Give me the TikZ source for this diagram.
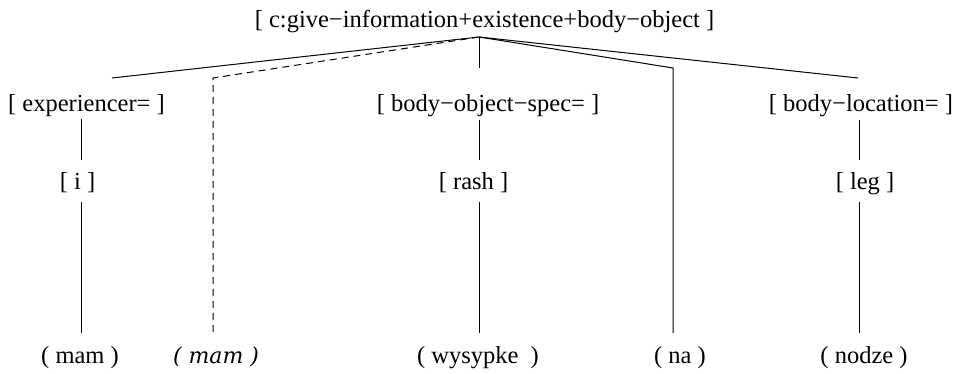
\documentclass[tikz,border=0pt]{standalone}
\usepackage{fontspec}
\setmainfont{Liberation Serif}
\newfontfamily\mamfont{DejaVu Serif}
\begin{document}
\begin{tikzpicture}[x=1pt,y=-1pt,
  lbl/.style={inner sep=0pt,anchor=base,font=\fontsize{24.5}{28}\selectfont},
  itlbl/.style={inner sep=0pt,anchor=base,font=\mamfont\itshape\fontsize{22}{26}\selectfont},
  edge/.style={line width=1pt},
  dedge/.style={line width=1pt,dash pattern=on 7pt off 5pt}]
\useasboundingbox (0,0) rectangle (956,374);
% labels
\node[lbl] (root) at (484.5,28) {[ c:give−information+existence+body−object ]};
\node[lbl] (exp) at (86.5,112) {[ experiencer= ]};
\node[lbl] (bos) at (488,112) {[ body−object−spec= ]};
\node[lbl] (bl) at (861,112) {[ body−location= ]};
\node[lbl] (i) at (77.5,190) {[ i ]};
\node[lbl] (rash) at (473.5,190) {[ rash ]};
\node[lbl] (leg) at (865,190) {[ leg ]};
\node[lbl] (mam) at (80,363) {( mam )};
\node[itlbl] (mamit) at (216,363) {( mam )};
\node[lbl] (wys) at (478,363) {( wysypke \ )};
\node[lbl] (na) at (680,363) {( na )};
\node[lbl] (nodze) at (864,363) {( nodze )};
% connector points
\coordinate (apex) at (479,37);
\coordinate (expT) at (112,78);
\coordinate (dashT) at (213,78);
\coordinate (dashB) at (213,333);
\coordinate (bosT) at (479,68);
\coordinate (naT) at (673,68);
\coordinate (naB) at (673,333);
\coordinate (blT) at (858,78);
\coordinate (expA) at (81,119);
\coordinate (expB) at (81,160);
\coordinate (iA) at (81,202);
\coordinate (iB) at (81,333);
\coordinate (bosA) at (479,120);
\coordinate (bosB) at (479,160);
\coordinate (rashA) at (479,202);
\coordinate (rashB) at (479,333);
\coordinate (blA) at (859,120);
\coordinate (blB) at (859,160);
\coordinate (legA) at (859,202);
\coordinate (legB) at (859,333);
% connectors
\draw[edge] (apex) -- (expT);
\draw[dedge] (apex) -- (dashT) -- (dashB);
\draw[edge] (apex) -- (bosT);
\draw[edge] (apex) -- (naT) -- (naB);
\draw[edge] (apex) -- (blT);
\draw[edge] (expA) -- (expB);
\draw[edge] (iA) -- (iB);
\draw[edge] (bosA) -- (bosB);
\draw[edge] (rashA) -- (rashB);
\draw[edge] (blA) -- (blB);
\draw[edge] (legA) -- (legB);
\end{tikzpicture}
\end{document}
